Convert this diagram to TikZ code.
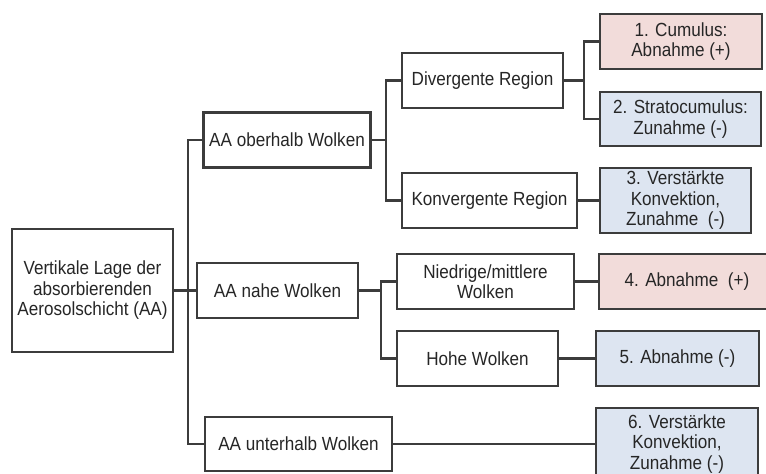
\documentclass[tikz,border=0pt]{standalone}
\usepackage{fontspec}
\setmainfont[FakeStretch=0.9]{Liberation Sans}
\definecolor{linegray}{HTML}{3C3C3C}
\definecolor{redfill}{HTML}{F2DCDA}
\definecolor{bluefill}{HTML}{DDE5F1}
\tikzset{
  box/.style={draw=linegray, line width=2.2pt, fill=white, align=center,
    inner sep=2pt, font=\fontsize{19}{20.5}\selectfont, text=black!85},
  redbox/.style={box, fill=redfill},
  bluebox/.style={box, fill=bluefill},
  wire/.style={draw=linegray, line width=2.2pt}
}
\begin{document}
\begin{tikzpicture}[x=1pt,y=-1pt]
        \clip (0,0) rectangle (766,474);
        \fill[white] (0,0) rectangle (766,474);

        \node[box, minimum width=161pt, minimum height=123pt] (root) at (92.5,290.5) {Vertikale Lage der\\absorbierenden\\Aerosolschicht (AA)};

        \node[box, minimum width=167pt, minimum height=55pt] (ober) at (287,140) {AA oberhalb Wolken};
        \node[box, minimum width=161pt, minimum height=55pt] (nahe) at (277.5,290.5) {AA nahe Wolken};
        \node[box, minimum width=187pt, minimum height=54pt] (unter) at (298.5,444) {AA unterhalb Wolken};

        \node[box, minimum width=161pt, minimum height=55pt] (div) at (482.5,80.5) {Divergente Region};
        \node[box, minimum width=175pt, minimum height=55pt] (konv) at (489.5,200.5) {Konvergente Region};
        \node[box, minimum width=177pt, minimum height=55pt] (nied) at (485.5,281.5) {Niedrige/mittlere\\Wolken};
        \node[box, minimum width=161pt, minimum height=55pt] (hohe) at (477.5,358.5) {Hohe Wolken};

        \node[redbox, minimum width=162pt, minimum height=55pt] (c1) at (681,41.5) {1. Cumulus:\\Abnahme (+)};
        \node[bluebox, minimum width=161pt, minimum height=54pt] (c2) at (680.5,119) {2. Stratocumulus:\\Zunahme (-)};
        \node[bluebox, minimum width=151pt, minimum height=65pt] (c3) at (675.5,200.5) {3. Verstärkte\\Konvektion,\\Zunahme~~(-)};
        \node[redbox, minimum width=176pt, minimum height=55pt] (c4) at (687,281.5) {4. Abnahme~~(+)};
        \node[bluebox, minimum width=163pt, minimum height=55pt] (c5) at (677.5,358.5) {5. Abnahme (-)};
        \node[bluebox, minimum width=162pt, minimum height=72pt] (c6) at (677,444) {6. Verstärkte\\Konvektion,\\Zunahme (-)};

        \coordinate (t1) at (188,290.5);
        \coordinate (t2) at (386,140);
        \coordinate (t3) at (584,80.5);
        \coordinate (t4) at (381,290.5);

        \draw[wire] (root.east) -- (t1) -- (nahe.west);
        \draw[wire] (ober.west) -| (t1) |- (unter.west);

        \draw[wire] (ober.east) -- (t2);
        \draw[wire] (div.west) -| (t2) |- (konv.west);
        \draw[wire] (div.east) -- (t3);
        \draw[wire] (c1.west) -| (t3) |- (c2.west);
        \draw[wire] (konv.east) -- (c3.west);

        \draw[wire] (nahe.east) -- (t4);
        \draw[wire] (nied.west) -| (t4) |- (hohe.west);
        \draw[wire] (nied.east) -- (c4.west);
        \draw[wire] (hohe.east) -- (c5.west);
        \draw[wire] (unter.east) -- (c6.west);
        \end{tikzpicture}
\end{document}
